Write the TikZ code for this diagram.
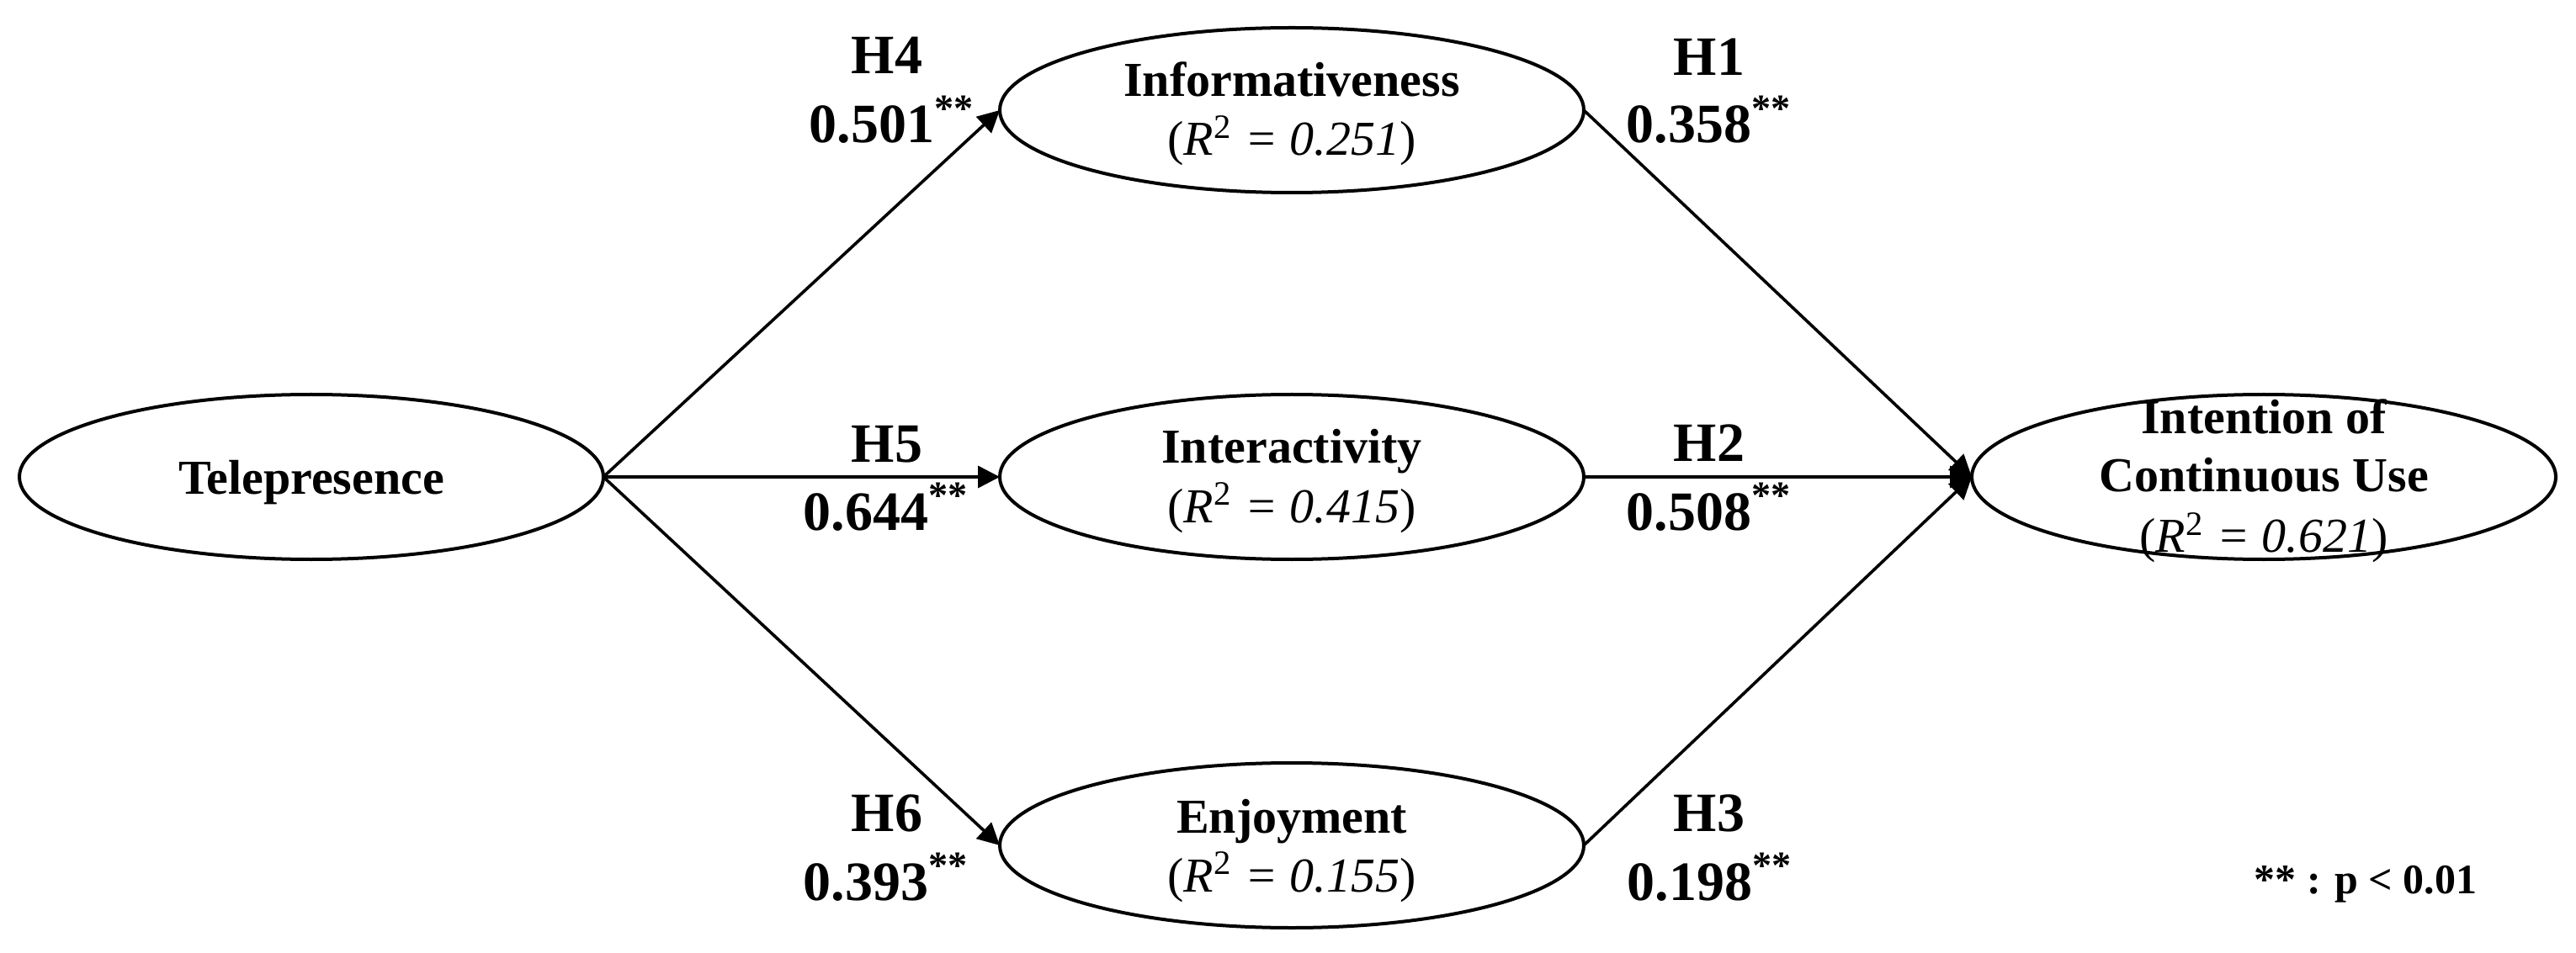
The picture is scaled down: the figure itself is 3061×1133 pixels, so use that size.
\documentclass[tikz,border=0pt]{standalone}
\usepackage{fontspec}
\setmainfont{Liberation Serif}
\usetikzlibrary{arrows.meta,shapes.geometric}
\begin{document}
\begin{tikzpicture}[x=0.25pt,y=-0.25pt,
  lat/.style={ellipse,draw,line width=1pt,minimum width=173.5pt,minimum height=49pt,inner sep=0pt,outer sep=0pt},
  nm/.style={anchor=base,inner sep=0pt,font=\fontsize{14.5}{17}\selectfont\bfseries},
  rsq/.style={anchor=base,inner sep=0pt,font=\fontsize{14.5}{17}\selectfont},
  hyp/.style={anchor=base,inner sep=0pt,font=\fontsize{16.5}{20}\selectfont\bfseries},
  note/.style={anchor=base,inner sep=0pt,font=\fontsize{12.5}{15}\selectfont\bfseries},
  arr/.style={line width=0.9pt,-{Triangle[length=6.5pt,width=6.5pt]}},
]
\useasboundingbox (0,0) rectangle (3061,1133);
% latent variables
\node[lat] (tele) at (370,567) {};
\node[lat] (info) at (1535,131) {};
\node[lat] (inter) at (1535,567) {};
\node[lat] (enjoy) at (1535,1005) {};
\node[lat] (intent) at (2690,567) {};
% texts in ellipses
\node[nm] (teleT) at (370,587) {Telepresence};
\node[nm] (infoT) at (1535,115) {Informativeness};
\node[rsq] (infoR) at (1535,185) {(\textit{R}\textsuperscript{2}\textit{ = 0.251})};
\node[nm] (interT) at (1535,551) {Interactivity};
\node[rsq] (interR) at (1535,621) {(\textit{R}\textsuperscript{2}\textit{ = 0.415})};
\node[nm] (enjoyT) at (1535,990) {Enjoyment};
\node[rsq] (enjoyR) at (1535,1060) {(\textit{R}\textsuperscript{2}\textit{ = 0.155})};
\node[nm] (intentT1) at (2690,515) {Intention of};
\node[nm] (intentT2) at (2690,585) {Continuous Use};
\node[rsq] (intentR) at (2690,657) {(\textit{R}\textsuperscript{2}\textit{ = 0.621})};
% connectors
\draw[arr] (tele.east) -- (info.west);
\draw[arr] (tele.east) -- (inter.west);
\draw[arr] (tele.east) -- (enjoy.west);
\draw[arr] (info.east) -- (intent.west);
\draw[arr] (inter.east) -- (intent.west);
\draw[arr] (enjoy.east) -- (intent.west);
% path labels
\node[hyp] (h4) at (1054,88) {H4};
\node[hyp] (h4v) at (1060,170) {0.501\textsuperscript{**}};
\node[hyp] (h5) at (1054,550) {H5};
\node[hyp] (h5v) at (1053,630) {0.644\textsuperscript{**}};
\node[hyp] (h6) at (1054,988) {H6};
\node[hyp] (h6v) at (1053,1070) {0.393\textsuperscript{**}};
\node[hyp] (h1) at (2031,90) {H1};
\node[hyp] (h1v) at (2031,170) {0.358\textsuperscript{**}};
\node[hyp] (h2) at (2031,548) {H2};
\node[hyp] (h2v) at (2031,630) {0.508\textsuperscript{**}};
\node[hyp] (h3) at (2031,988) {H3};
\node[hyp] (h3v) at (2032,1070) {0.198\textsuperscript{**}};
% note
\node[note] (pnote) at (2811,1062) {** : p < 0.01};
\end{tikzpicture}
\end{document}
